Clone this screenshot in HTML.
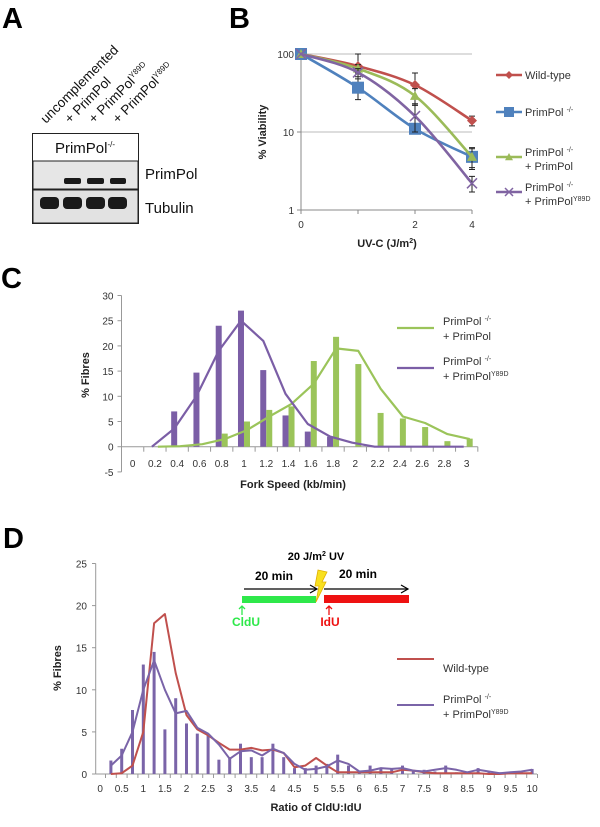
<!DOCTYPE html>
<html><head><meta charset="utf-8">
<style>
html,body{margin:0;padding:0;background:#fff;}
svg{display:block;font-family:"Liberation Sans",Arial,sans-serif;}
.t{font-size:10px;fill:#333;}
.ti{font-size:11px;font-weight:bold;fill:#222;}
.lg{font-size:11px;fill:#333;}
.pl{font-size:29px;font-weight:bold;fill:#000;}
</style></head>
<body>
<svg id="fig" width="600" height="827" viewBox="0 0 600 827">
<g>
<text class="pl" x="2" y="28">A</text>
<g font-size="13.5" fill="#111">
<text transform="translate(46,124) rotate(-45)">uncomplemented</text>
<text transform="translate(70,124) rotate(-45)">+ PrimPol</text>
<text transform="translate(94,124) rotate(-45)">+ PrimPol<tspan font-size="8" dy="-5">Y89D</tspan></text>
<text transform="translate(118,124) rotate(-45)">+ PrimPol<tspan font-size="8" dy="-5">Y89D</tspan></text>
</g>
<rect x="32.5" y="133.5" width="106" height="90" fill="#fff" stroke="#222"/>
<text x="85" y="153" font-size="15" text-anchor="middle" fill="#111">PrimPol<tspan font-size="8" dy="-6">-/-</tspan></text>
<rect x="33" y="161" width="105" height="28" fill="#e6e6e6" stroke="#222"/>
<rect x="33" y="190" width="105" height="33" fill="#e2e2e2" stroke="#222"/>
<g fill="#1a1a1a">
<rect x="64" y="178" width="17" height="6" rx="2"/>
<rect x="87" y="178" width="17" height="6" rx="2"/>
<rect x="110" y="178" width="16" height="6" rx="2"/>
<rect x="40" y="197" width="19" height="12" rx="4"/>
<rect x="63" y="197" width="19" height="12" rx="4"/>
<rect x="86" y="197" width="19" height="12" rx="4"/>
<rect x="108" y="197" width="19" height="12" rx="4"/>
</g>
<text x="145" y="179" font-size="15" fill="#111">PrimPol</text>
<text x="145" y="213" font-size="15" fill="#111">Tubulin</text>
</g>
<text class="pl" x="229" y="28">B</text>
<g id="pb"></g>
<text class="pl" x="1" y="288">C</text>
<g id="pc"></g>
<text class="pl" x="3" y="548">D</text>
<g id="pd"></g>
<g>
<text x="316" y="560" font-size="11" font-weight="bold" text-anchor="middle">20 J/m<tspan font-size="7" dy="-4">2</tspan><tspan dy="4"> UV</tspan></text>
<text x="274" y="580" font-size="12" font-weight="bold" text-anchor="middle">20 min</text>
<text x="358" y="578" font-size="12" font-weight="bold" text-anchor="middle">20 min</text>
<line x1="244" y1="589" x2="316" y2="589" stroke="#000" stroke-width="1.2"/>
<path d="M310,585 L317,589 L310,593" fill="none" stroke="#000" stroke-width="1.2"/>
<line x1="324" y1="589" x2="408" y2="589" stroke="#000" stroke-width="1.2"/>
<path d="M401,585 L408,589 L401,593" fill="none" stroke="#000" stroke-width="1.2"/>
<rect x="242" y="596" width="74" height="7" fill="#2ee84a"/>
<rect x="324" y="595" width="85" height="8" fill="#ee1111"/>
<path d="M318,570 L327,572 L322,582 L326,582 L316,602 L319,586 L315,586 Z" fill="#f8e020" stroke="#e0b000" stroke-width="0.8"/>
<path d="M242,615 L242,606 M239,609 L242,606 L245,609" stroke="#2ee84a" stroke-width="1.3" fill="none"/>
<text x="246" y="626" font-size="12" font-weight="bold" fill="#2ee84a" text-anchor="middle">CldU</text>
<path d="M329,615 L329,606 M326,609 L329,606 L332,609" stroke="#ee1111" stroke-width="1.3" fill="none"/>
<text x="330" y="626" font-size="12" font-weight="bold" fill="#ee1111" text-anchor="middle">IdU</text>
</g>
</svg>
<script>
// ===== Panel B data =====
const bCats = ["0","1","2","4"];
const bTickLabels = ["0","","2","4"];
const bWT = [100,70,40,14];
const bKO = [100,37,11,4.8];
const bKOPP = [100,65,29,4.8];
const bKOY = [100,58,16,2.2];
const bErrWT = [0,30,17,2];
const bErrKO = [0,11,0,1.3];
const bErrKOPP = [0,8,7,1.5];
const bErrKOY = [0,7,6,0.5];
// ===== Panel C data =====
const cCats = ["0","0.2","0.4","0.6","0.8","1","1.2","1.4","1.6","1.8","2","2.2","2.4","2.6","2.8","3"];
const cBarY89D = [0,0,7,14.7,24,27,15.2,6.2,3,2,0,0,0,0,0,0];
const cBarPP = [0,0,0,0,2.6,5,7.3,8,17,21.8,16.4,6.7,5.6,3.9,1.1,1.6];
const cLineY89D = [null,0,3.6,10,19,25,21,10.5,4.5,2,0.8,0,0,0,0,0];
const cLinePP = [null,0,0.1,0.5,1.5,3.3,6,8.5,12.5,19.5,19,11.5,6,4.7,2.5,1.5];
const cYTicks = [-5,0,5,10,15,20,25,30];
// ===== Panel D data =====
const dCats = ["0","0.25","0.5","0.75","1","1.25","1.5","1.75","2","2.25","2.5","2.75","3","3.25","3.5","3.75","4","4.25","4.5","4.75","5","5.25","5.5","5.75","6","6.25","6.5","6.75","7","7.25","7.5","7.75","8","8.25","8.5","8.75","9","9.25","9.5","9.75","10"];
const dBars = [0,1.6,3,7.6,13,14.5,5.3,9,6,4.8,4.6,1.7,2,3.6,2,2,3.6,2,0.7,0.7,1,1.2,2.3,1,0.2,1,0.7,0.7,1,0.3,0.5,0.3,1,0.2,0.3,0.7,0.2,0.2,0.3,0.3,0.6];
const dLineY89D = [null,1,2.2,5,10,13.5,10,7.2,7.5,5.5,4.8,3.5,1.8,2.7,2.8,2.2,3,2.5,1.2,0.5,0.6,0.9,1.6,1.2,0.3,0.4,0.7,0.6,0.7,0.4,0.3,0.5,0.7,0.5,0.2,0.5,0.3,0.1,0.2,0.3,0.5];
const dLineWT = [null,0,0.1,1,5,17.9,19,12,7,5.3,4.6,3.7,2.9,2.9,3.1,2.8,2.9,2.5,0.8,1,1.9,1,0.2,0.2,0.2,0.2,0.2,0.2,0.5,0.4,0.2,0.1,0.1,0.1,0.1,0.1,0,0,0.1,0.1,0.1];
const dXLabels = ["0","0.5","1","1.5","2","2.5","3","3.5","4","4.5","5","5.5","6","6.5","7","7.5","8","8.5","9","9.5","10"];
const dYTicks = [0,5,10,15,20,25];

const NS="http://www.w3.org/2000/svg";
function mk(parent,tag,attrs,text){const e=document.createElementNS(NS,tag);for(const k in attrs)e.setAttribute(k,attrs[k]);if(text!==undefined)e.textContent=text;parent.appendChild(e);return e;}
function polyPts(vals,xf,yf){return vals.map((v,i)=>v===null?null:xf(i).toFixed(1)+","+yf(v).toFixed(1)).filter(p=>p).join(" ");}

// ---------- Panel B ----------
(function(){
const g=document.getElementById('pb');
const x=i=>301+i*57;
const y=v=>210-78*Math.log10(v);
[100,10].forEach(v=>{const l=mk(g,'line',{x1:301,x2:472,y1:y(v),y2:y(v),stroke:'#bbb','stroke-width':1});

});
mk(g,'line',{x1:301,x2:301,y1:54,y2:210,stroke:'#888'});
mk(g,'line',{x1:301,x2:472,y1:210,y2:210,stroke:'#888'});
[1,10,100].forEach(v=>{mk(g,'line',{x1:297,x2:301,y1:y(v),y2:y(v),stroke:'#888'});
const t=mk(g,'text',{x:294,y:y(v)+4,'text-anchor':'end',class:'t'},String(v));

});
bCats.forEach((c,i)=>{mk(g,'line',{x1:x(i),x2:x(i),y1:210,y2:214,stroke:'#888'});
const t=mk(g,'text',{x:x(i),y:228,'text-anchor':'middle',class:'t'},bTickLabels[i]);

});
const yt=mk(g,'text',{transform:'translate(266,132) rotate(-90)','text-anchor':'middle',class:'ti'},'% Viability');


const xt=mk(g,'text',{x:387,y:247,'text-anchor':'middle',class:'ti'},'UV-C (J/m');
mk(xt,'tspan',{'font-size':7,dy:-4},'2');mk(xt,'tspan',{dy:4},')');


const series=[[bWT,bErrWT,'#c0504d','diamond','wild-type'],[bKO,bErrKO,'#4f81bd','square','primpol-ko'],[bKOPP,bErrKOPP,'#9bbb59','triangle','primpol-ko-primpol'],[bKOY,bErrKOY,'#8064a2','x','primpol-ko-y89d']];
function marker(par,type,cx,cy,col,s){
 let e;
 if(type==='diamond')e=mk(par,'path',{d:`M${cx},${cy-s} L${cx+s},${cy} L${cx},${cy+s} L${cx-s},${cy} Z`,fill:col});
 else if(type==='square')e=mk(par,'rect',{x:cx-s,y:cy-s,width:2*s,height:2*s,fill:col});
 else if(type==='triangle')e=mk(par,'path',{d:`M${cx},${cy-s} L${cx+s},${cy+s*0.8} L${cx-s},${cy+s*0.8} Z`,fill:col});
 else e=mk(par,'path',{d:`M${cx-s},${cy-s} L${cx+s},${cy+s} M${cx+s},${cy-s} L${cx-s},${cy+s}`,stroke:col,'stroke-width':1.5});
 return e;}
series.forEach(([vals,err,col,m,name])=>{
 const sg=mk(g,'g',{});
 
 
 const p=vals.map((v,i)=>[x(i),y(v)]);
 let d='M'+p[0][0]+','+p[0][1];
 const k=0.5/3;
 for(let i=0;i<p.length-1;i++){
  const p0=p[Math.max(i-1,0)],p1=p[i],p2=p[i+1],p3=p[Math.min(i+2,p.length-1)];
  const c1=[p1[0]+(p2[0]-p0[0])*k,p1[1]+(p2[1]-p0[1])*k];
  const c2=[p2[0]-(p3[0]-p1[0])*k,p2[1]-(p3[1]-p1[1])*k];
  d+=` C${c1[0].toFixed(1)},${c1[1].toFixed(1)} ${c2[0].toFixed(1)},${c2[1].toFixed(1)} ${p2[0]},${p2[1].toFixed(1)}`;}
 mk(sg,'path',{d:d,fill:'none',stroke:col,'stroke-width':2.6});
 vals.forEach((v,i)=>{if(err[i]>0){const y1=y(v+err[i]),y2=y(Math.max(v-err[i],0.5));
  mk(sg,'path',{d:`M${x(i)},${y1} L${x(i)},${y2} M${x(i)-3},${y1} L${x(i)+3},${y1} M${x(i)-3},${y2} L${x(i)+3},${y2}`,stroke:'#222','stroke-width':1});}
  const mm=marker(sg,m,x(i),y(v),col,m==='square'?6:5);
  
  });
});
const leg=[[75,null,'Wild-type',null,'#c0504d','diamond'],[112,null,'PrimPol ','-/-','#4f81bd','square'],[152,'+ PrimPol','PrimPol ','-/-','#9bbb59','triangle'],[187,'+ PrimPol','PrimPol ','-/-','#8064a2','x']];
leg.forEach(([ly,l2,l1,sup,col,m],k)=>{
 const lg=mk(g,'g',{});
 
 
 const cy=ly+(l2?5:0);
 mk(lg,'line',{x1:496,x2:522,y1:cy,y2:cy,stroke:col,'stroke-width':2.6});
 marker(lg,m,509,cy,col,m==='square'?5:4);
 const t=mk(lg,'text',{x:525,y:ly+4,class:'lg'},l1);
 if(sup)mk(t,'tspan',{'font-size':7,dy:-4},sup);
 if(l2){const t2=mk(lg,'text',{x:525,y:ly+18,class:'lg'},l2);if(k===3)mk(t2,'tspan',{'font-size':7,dy:-4},'Y89D');}
});
})();

// ---------- Panel C ----------
(function(){
const g=document.getElementById('pc');
const step=22.27,x0=121.5;
const cx=i=>x0+step*(i+0.5);
const y=v=>446.7-v*5.04;
mk(g,'line',{x1:x0,x2:x0,y1:y(30),y2:y(-5),stroke:'#999'});
cYTicks.forEach(v=>{mk(g,'line',{x1:x0-4,x2:x0,y1:y(v),y2:y(v),stroke:'#999'});
const t=mk(g,'text',{x:x0-8,y:y(v)+4,'text-anchor':'end',class:'t'},String(v));

});
mk(g,'line',{x1:x0,x2:x0+step*16,y1:y(0),y2:y(0),stroke:'#999'});
cCats.forEach((c,i)=>{mk(g,'line',{x1:x0+step*(i+1),x2:x0+step*(i+1),y1:y(0),y2:y(0)+5,stroke:'#999'});
const t=mk(g,'text',{x:cx(i),y:467,'text-anchor':'middle',class:'t'},c);

});
cCats.forEach((c,i)=>{
 if(cBarY89D[i]>0){const b=mk(g,'rect',{x:cx(i)-6,y:y(cBarY89D[i]),width:6,height:y(0)-y(cBarY89D[i]),fill:'#7b5ea6'});
 
 }
 if(cBarPP[i]>0){const b=mk(g,'rect',{x:cx(i),y:y(cBarPP[i]),width:6,height:y(0)-y(cBarPP[i]),fill:'#9bc45a'});
 
 }
});
const l1=mk(g,'polyline',{points:polyPts(cLinePP,i=>cx(i)+3,y),fill:'none',stroke:'#9bc45a','stroke-width':2.2,'stroke-linejoin':'round'});


const l2=mk(g,'polyline',{points:polyPts(cLineY89D,i=>cx(i)-3,y),fill:'none',stroke:'#7b5ea6','stroke-width':2.2,'stroke-linejoin':'round'});


const yt=mk(g,'text',{transform:'translate(89,375) rotate(-90)','text-anchor':'middle',class:'ti','font-size':13},'% Fibres');


const xt=mk(g,'text',{x:293,y:488,'text-anchor':'middle',class:'ti'},'Fork Speed (kb/min)');


[[328,'#9bc45a',false],[368,'#7b5ea6',true]].forEach(([ly,col,y89])=>{
 const lg=mk(g,'g',{});
 
 
 mk(lg,'line',{x1:397,x2:434,y1:ly,y2:ly,stroke:col,'stroke-width':2.2});
 const t=mk(lg,'text',{x:443,y:ly-3,class:'lg'},'PrimPol ');mk(t,'tspan',{'font-size':7,dy:-4},'-/-');
 const t2=mk(lg,'text',{x:443,y:ly+12,class:'lg'},'+ PrimPol');if(y89)mk(t2,'tspan',{'font-size':7,dy:-4},'Y89D');
});
})();

// ---------- Panel D ----------
(function(){
const g=document.getElementById('pd');
const x=i=>100.1+43.2*(i*0.25);
const y=v=>774-v*8.42;
mk(g,'line',{x1:95.7,x2:95.7,y1:y(25),y2:y(0),stroke:'#999'});
dYTicks.forEach(v=>{mk(g,'line',{x1:92,x2:95.7,y1:y(v),y2:y(v),stroke:'#999'});
const t=mk(g,'text',{x:87,y:y(v)+4,'text-anchor':'end',class:'t'},String(v));

});
mk(g,'line',{x1:95.7,x2:537,y1:y(0),y2:y(0),stroke:'#999'});
dCats.forEach((c,i)=>{mk(g,'line',{x1:x(i)+5.4,x2:x(i)+5.4,y1:y(0),y2:y(0)+4,stroke:'#999'});});
dXLabels.forEach((c,k)=>{const t=mk(g,'text',{x:x(k*2),y:792,'text-anchor':'middle',class:'t'},c);

});
dCats.forEach((c,i)=>{if(dBars[i]>0){const b=mk(g,'rect',{x:x(i)-1.5,y:y(dBars[i]),width:3,height:y(0)-y(dBars[i]),fill:'#7a64a8'});
 
 }});
const l1=mk(g,'polyline',{points:polyPts(dLineWT,x,y),fill:'none',stroke:'#c0504d','stroke-width':2,'stroke-linejoin':'round'});


const l2=mk(g,'polyline',{points:polyPts(dLineY89D,x,y),fill:'none',stroke:'#7a64a8','stroke-width':2,'stroke-linejoin':'round'});


const yt=mk(g,'text',{transform:'translate(61,668) rotate(-90)','text-anchor':'middle',class:'ti','font-size':13},'% Fibres');


const xt=mk(g,'text',{x:316,y:811,'text-anchor':'middle',class:'ti'},'Ratio of CldU:IdU');


const lg1=mk(g,'g',{});


mk(lg1,'line',{x1:397,x2:434,y1:659,y2:659,stroke:'#c0504d','stroke-width':2});
mk(lg1,'text',{x:443,y:672,class:'lg'},'Wild-type');
const lg2=mk(g,'g',{});


mk(lg2,'line',{x1:397,x2:434,y1:705,y2:705,stroke:'#7a64a8','stroke-width':2});
const t=mk(lg2,'text',{x:443,y:703,class:'lg'},'PrimPol ');mk(t,'tspan',{'font-size':7,dy:-4},'-/-');
const t2=mk(lg2,'text',{x:443,y:718,class:'lg'},'+ PrimPol');mk(t2,'tspan',{'font-size':7,dy:-4},'Y89D');
})();
</script>
</body></html>
